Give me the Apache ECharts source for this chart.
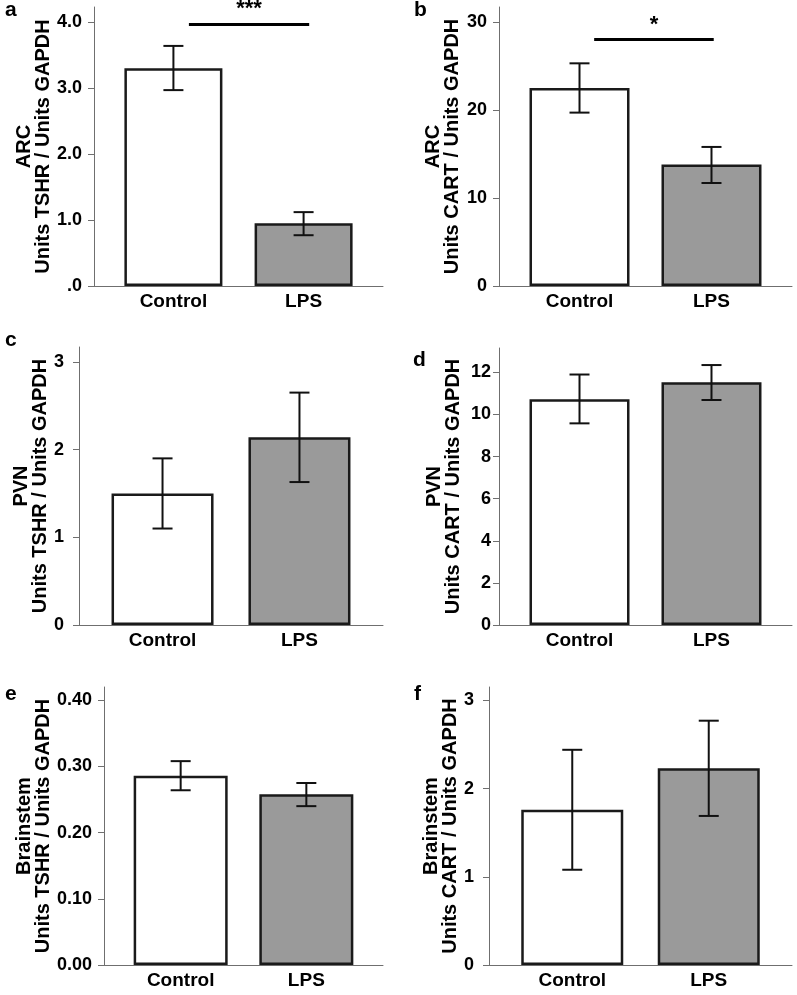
<!DOCTYPE html>
<html>
<head>
<meta charset="utf-8">
<script src="https://cdn.jsdelivr.net/npm/echarts@6/dist/echarts.min.js"></script>
<style>
  html, body { margin: 0; padding: 0; background: #fff; }
  #chart { width: 797px; height: 995px; }
</style>
</head>
<body>
<div id="chart"></div>
<script>
// data
var categories = ['Control', 'LPS'];
var panelLetters = ['a', 'b', 'c', 'd', 'e', 'f'];
var regionNames = ['ARC', 'ARC', 'PVN', 'PVN', 'Brainstem', 'Brainstem'];
var geneNames = ['TSHR', 'CART', 'TSHR', 'CART', 'TSHR', 'CART'];

var meansA = [3.30, 0.95];
var lowA = [2.97, 0.77];
var highA = [3.64, 1.12];
var ticksA = [0, 1, 2, 3, 4];
var tickLabelsA = ['.0', '1.0', '2.0', '3.0', '4.0'];

var meansB = [22.5, 13.8];
var lowB = [19.7, 11.7];
var highB = [25.3, 15.8];
var ticksB = [0, 10, 20, 30];
var tickLabelsB = ['0', '10', '20', '30'];

var meansC = [1.50, 2.14];
var lowC = [1.10, 1.63];
var highC = [1.90, 2.65];
var ticksC = [0, 1, 2, 3];
var tickLabelsC = ['0', '1', '2', '3'];

var meansD = [10.73, 11.53];
var lowD = [9.58, 10.69];
var highD = [11.90, 12.35];
var ticksD = [0, 2, 4, 6, 8, 10, 12];
var tickLabelsD = ['0', '2', '4', '6', '8', '10', '12'];

var meansE = [0.286, 0.258];
var lowE = [0.264, 0.240];
var highE = [0.308, 0.275];
var ticksE = [0, 0.1, 0.2, 0.3, 0.4];
var tickLabelsE = ['0.00', '0.10', '0.20', '0.30', '0.40'];

var meansF = [1.76, 2.23];
var lowF = [1.08, 1.69];
var highF = [2.44, 2.77];
var ticksF = [0, 1, 2, 3];
var tickLabelsF = ['0', '1', '2', '3'];

// significance brackets (x in category units, y in data units)
var sigA = { x: [1.119, 2.043], y: 3.97, text: '***' };
var sigB = { x: [1.111, 2.017], y: 27.98, text: '*' };

var panelData = [
    { means: meansA, low: lowA, high: highA, ticks: ticksA, labels: tickLabelsA, sig: sigA },
    { means: meansB, low: lowB, high: highB, ticks: ticksB, labels: tickLabelsB, sig: sigB },
    { means: meansC, low: lowC, high: highC, ticks: ticksC, labels: tickLabelsC, sig: null },
    { means: meansD, low: lowD, high: highD, ticks: ticksD, labels: tickLabelsD, sig: null },
    { means: meansE, low: lowE, high: highE, ticks: ticksE, labels: tickLabelsE, sig: null },
    { means: meansF, low: lowF, high: highF, ticks: ticksF, labels: tickLabelsF, sig: null }
];

// layout (pixels)
var layout = [
    { left: 94,  top: 7,   width: 289, height: 279, yMax: 4.23,  barWidth: 98,  nameGap: 41, labelMargin: 12, letter: [5, 0] },
    { left: 499, top: 7,   width: 293, height: 279, yMax: 31.7,  barWidth: 100, nameGap: 37, labelMargin: 12, letter: [414, 0] },
    { left: 79,  top: 347, width: 304, height: 278, yMax: 3.17,  barWidth: 102, nameGap: 26, labelMargin: 15, letter: [5, 330] },
    { left: 499, top: 348, width: 293, height: 277, yMax: 13.16, barWidth: 100, nameGap: 36, labelMargin: 8,  letter: [413, 350] },
    { left: 104, top: 687, width: 279, height: 278, yMax: 0.42,  barWidth: 94,  nameGap: 50, labelMargin: 12, letter: [5, 684] },
    { left: 489, top: 687, width: 303, height: 278, yMax: 3.152, barWidth: 102, nameGap: 26, labelMargin: 15, letter: [414, 684] }
];

var fontFamily = '"Liberation Sans", Arial, Helvetica, sans-serif';
var axisGray = '#6f6f6f';
var barFill = ['#ffffff', '#9a9a9a'];

function renderErrorBar(params, api) {
    var x = api.value(0);
    var pLo = api.coord([x, api.value(1)]);
    var pHi = api.coord([x, api.value(2)]);
    var half = 10;
    var style = { stroke: '#111', lineWidth: 2 };
    return {
        type: 'group',
        children: [
            { type: 'line', shape: { x1: pLo[0], y1: pLo[1], x2: pHi[0], y2: pHi[1] }, style: style },
            { type: 'line', shape: { x1: pLo[0] - half, y1: pLo[1], x2: pLo[0] + half, y2: pLo[1] }, style: style },
            { type: 'line', shape: { x1: pHi[0] - half, y1: pHi[1], x2: pHi[0] + half, y2: pHi[1] }, style: style }
        ]
    };
}

var grids = [], xAxes = [], yAxes = [], series = [], titles = [];

panelData.forEach(function (p, i) {
    var L = layout[i];
    grids.push({ left: L.left, top: L.top, width: L.width, height: L.height });

    xAxes.push({
        gridIndex: i,
        type: 'value',
        min: 0.39,
        max: 2.61,
        axisLine: { show: true, onZero: false, lineStyle: { color: axisGray, width: 1 } },
        axisTick: { show: false },
        splitLine: { show: false },
        axisLabel: {
            customValues: [1, 2],
            formatter: function (v) { return categories[Math.round(v) - 1]; },
            color: '#000',
            fontSize: 19,
            fontWeight: 'bold',
            fontFamily: fontFamily,
            margin: 6
        }
    });

    yAxes.push({
        gridIndex: i,
        type: 'value',
        min: 0,
        max: L.yMax,
        name: regionNames[i] + '\nUnits ' + geneNames[i] + ' / Units GAPDH',
        nameLocation: 'middle',
        nameRotate: 90,
        nameGap: L.nameGap,
        nameTextStyle: {
            color: '#000',
            fontSize: 20,
            fontWeight: 'bold',
            fontFamily: fontFamily,
            lineHeight: 19
        },
        axisLine: { show: true, lineStyle: { color: axisGray, width: 1 } },
        axisTick: { show: true, length: 6, customValues: p.ticks, lineStyle: { color: axisGray } },
        splitLine: { show: false },
        axisLabel: {
            customValues: p.ticks,
            formatter: function (v) {
                var k = p.ticks.indexOf(v);
                return k >= 0 ? p.labels[k] : '';
            },
            color: '#000',
            fontSize: 18,
            fontWeight: 'bold',
            fontFamily: fontFamily,
            margin: L.labelMargin
        }
    });

    var barSeries = {
        type: 'bar',
        xAxisIndex: i,
        yAxisIndex: i,
        barWidth: L.barWidth,
        silent: true,
        data: p.means.map(function (m, k) {
            return {
                value: [k + 1, m],
                itemStyle: { color: barFill[k], borderColor: '#1a1a1a', borderWidth: 2.5 }
            };
        })
    };
    if (p.sig) {
        barSeries.markLine = {
            silent: true,
            symbol: 'none',
            lineStyle: { color: '#000', width: 3, type: 'solid' },
            label: {
                show: true,
                position: 'middle',
                formatter: p.sig.text,
                color: '#000',
                fontSize: 22,
                fontWeight: 'bold',
                fontFamily: fontFamily,
                distance: 4
            },
            data: [[
                { coord: [p.sig.x[0], p.sig.y] },
                { coord: [p.sig.x[1], p.sig.y] }
            ]]
        };
    }
    series.push(barSeries);

    series.push({
        type: 'custom',
        xAxisIndex: i,
        yAxisIndex: i,
        silent: true,
        z: 5,
        renderItem: renderErrorBar,
        encode: { x: 0, y: [1, 2] },
        data: p.means.map(function (m, k) { return [k + 1, p.low[k], p.high[k]]; })
    });

    titles.push({
        text: panelLetters[i],
        left: L.letter[0],
        top: L.letter[1],
        padding: 0,
        textStyle: { color: '#000', fontSize: 21, fontWeight: 'bold', fontFamily: fontFamily }
    });
});

var dom = document.getElementById('chart');
var myChart = echarts.init(dom, null, { renderer: 'canvas' });

var option = {
    backgroundColor: '#fff',
    animation: false,
    title: titles,
    grid: grids,
    xAxis: xAxes,
    yAxis: yAxes,
    series: series
};

if (option && typeof option === 'object') {
    myChart.setOption(option, true);
}
</script>
</body>
</html>
